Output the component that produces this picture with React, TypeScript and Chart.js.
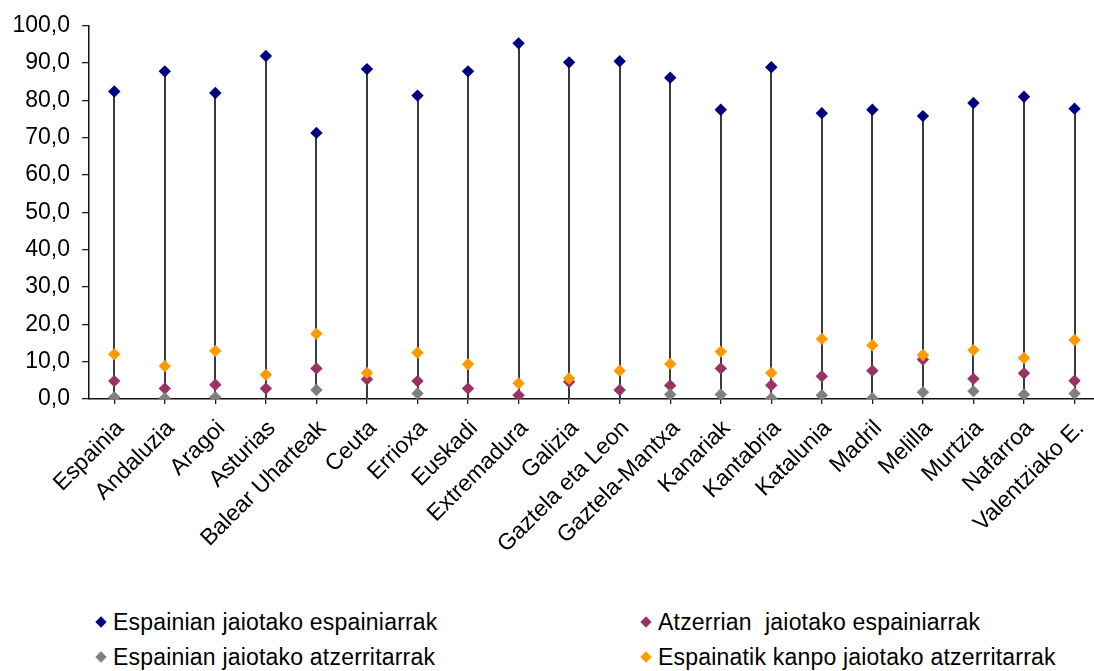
import React, { useEffect, useRef } from 'react';
import { Chart, registerables } from 'chart.js';

Chart.register(...registerables);

const categories = [
  'Espainia', 'Andaluzia', 'Aragoi', 'Asturias', 'Balear Uharteak', 'Ceuta', 'Errioxa',
  'Euskadi', 'Extremadura', 'Galizia', 'Gaztela eta Leon', 'Gaztela-Mantxa', 'Kanariak',
  'Kantabria', 'Katalunia', 'Madril', 'Melilla', 'Murtzia', 'Nafarroa', 'Valentziako E.',
];

const seriesNames = [
  'Espainian jaiotako espainiarrak',
  'Atzerrian  jaiotako espainiarrak',
  'Espainian jaiotako atzerritarrak',
  'Espainatik kanpo jaiotako atzerritarrak',
];

const espainianJaiotakoEspainiarrak = [
  82.4, 87.8, 82.0, 91.9, 71.3, 88.4, 81.3, 87.8, 95.3, 90.2,
  90.5, 86.1, 77.5, 88.9, 76.6, 77.5, 75.8, 79.3, 81.0, 77.8,
];
const atzerrianJaiotakoEspainiarrak = [
  4.8, 2.8, 3.8, 2.8, 8.2, 5.3, 4.8, 2.8, 1.0, 4.6,
  2.4, 3.6, 8.2, 3.7, 6.1, 7.6, 10.6, 5.4, 6.9, 4.9,
];
const espainianJaiotakoAtzerritarrak = [
  0.5, 0.2, 0.5, 0, 2.4, 0, 1.5, 0, 0, 0,
  0, 1.2, 1.2, 0.2, 1.0, 0.2, 1.8, 2.1, 1.2, 1.5,
];
const espainatikKanpoJaiotakoAtzerritarrak = [
  12.0, 8.8, 12.9, 6.5, 17.5, 7.0, 12.4, 9.3, 4.2, 5.5,
  7.6, 9.4, 12.7, 7.0, 16.1, 14.4, 11.8, 13.1, 11.0, 15.8,
];

const yTicks = [0, 10, 20, 30, 40, 50, 60, 70, 80, 90, 100];

const seriesColors = ['#000080', '#993366', '#808080', '#FF9900'];
const allSeries = [
  espainianJaiotakoEspainiarrak,
  atzerrianJaiotakoEspainiarrak,
  espainianJaiotakoAtzerritarrak,
  espainatikKanpoJaiotakoAtzerritarrak,
];
// drawing order: orange on top, then gray, purple, navy
const drawOrder = [3, 2, 1, 0];

const FONT = '"Liberation Sans", Arial, sans-serif';

export default function App() {
  const ref = useRef<HTMLCanvasElement>(null);

  useEffect(() => {
    if (!ref.current) return;
    const stems = {
      id: 'stems',
      beforeDatasetsDraw(chart: any) {
        const { ctx, scales } = chart;
        const xs = scales.x;
        const ys = scales.y;
        ctx.save();
        ctx.strokeStyle = '#3a3a3a';
        ctx.lineWidth = 2;
        categories.forEach((_, i) => {
          const vals = allSeries.map((s) => s[i]).filter((v) => v !== null && v !== undefined);
          const hi = Math.max(...vals);
          const lo = Math.min(...vals);
          const x = Math.round(xs.getPixelForValue(i));
          ctx.beginPath();
          ctx.moveTo(x, ys.getPixelForValue(hi));
          ctx.lineTo(x, ys.getPixelForValue(lo));
          ctx.stroke();
        });
        ctx.restore();
      },
    };

    const chart = new Chart(ref.current, {
      type: 'line',
      data: {
        labels: categories,
        datasets: allSeries.map((data, k) => ({
          label: seriesNames[k],
          data,
          order: drawOrder[k],
          showLine: false,
          pointStyle: 'rectRot',
          pointRadius: (c: any) => (c.raw === 0 ? 0 : 6.2),
          pointBorderWidth: 0,
          pointBackgroundColor: seriesColors[k],
          pointBorderColor: seriesColors[k],
          borderColor: seriesColors[k],
          backgroundColor: seriesColors[k],
        })),
      },
      options: {
        responsive: false,
        animation: false,
        events: [],
        layout: { padding: { top: 25, right: 0, bottom: 0, left: 0 } },
        plugins: {
          legend: { display: false },
          tooltip: { enabled: false },
        },
        scales: {
          x: {
            type: 'category',
            offset: true,
            afterFit: (scale: any) => {
              scale.height = 201;
            },
            grid: {
              display: true,
              offset: false,
              drawOnChartArea: false,
              drawTicks: true,
              tickLength: 5,
              color: '#222222',
              lineWidth: 1.3,
            },
            border: { display: true, color: '#111111', width: 1.5 },
            ticks: {
              autoSkip: false,
              maxRotation: 45,
              minRotation: 45,
              padding: 11,
              labelOffset: 6,
              color: '#000000',
              font: { family: FONT, size: 23 },
            },
          },
          y: {
            min: 0,
            max: 100,
            afterFit: (scale: any) => {
              scale.width = 89;
            },
            afterBuildTicks: (scale: any) => {
              scale.ticks = yTicks.map((v) => ({ value: v }));
            },
            grid: {
              display: true,
              drawOnChartArea: false,
              drawTicks: true,
              tickLength: 7,
              color: '#222222',
              lineWidth: 1.3,
            },
            border: { display: true, color: '#111111', width: 1.5 },
            ticks: {
              padding: 12,
              color: '#000000',
              font: { family: FONT, size: 23 },
              callback: (v: any) => Number(v).toFixed(1).replace('.', ','),
            },
          },
        },
      },
      plugins: [stems],
    } as any);
    return () => chart.destroy();
  }, []);

  const legendPos = [
    { left: 113, top: 610, mx: 100.5, my: 622 },
    { left: 658, top: 610, mx: 646, my: 622 },
    { left: 113, top: 645, mx: 100.5, my: 657 },
    { left: 658, top: 645, mx: 646, my: 657 },
  ];

  return (
    <div
      style={{
        position: 'absolute',
        left: 0,
        top: 0,
        width: 1094,
        height: 671,
        overflow: 'hidden',
        background: '#ffffff',
        fontFamily: FONT,
      }}
    >
      <canvas
        ref={ref}
        width={1106}
        height={600}
        style={{ position: 'absolute', left: 0, top: 0, width: 1106, height: 600, display: 'block' }}
      />
      {seriesNames.map((name, k) => {
        const p = legendPos[k];
        return (
          <React.Fragment key={name}>
            <div
              style={{
                position: 'absolute',
                left: p.mx - 4,
                top: p.my - 4,
                width: 8,
                height: 8,
                background: seriesColors[k],
                transform: 'rotate(45deg)',
              }}
            />
            <div
              style={{
                position: 'absolute',
                left: p.left,
                top: p.top,
                fontSize: 23,
                lineHeight: '25px',
                letterSpacing: '0.2px',
                whiteSpace: 'pre',
                color: '#000000',
              }}
            >
              {name}
            </div>
          </React.Fragment>
        );
      })}
    </div>
  );
}
